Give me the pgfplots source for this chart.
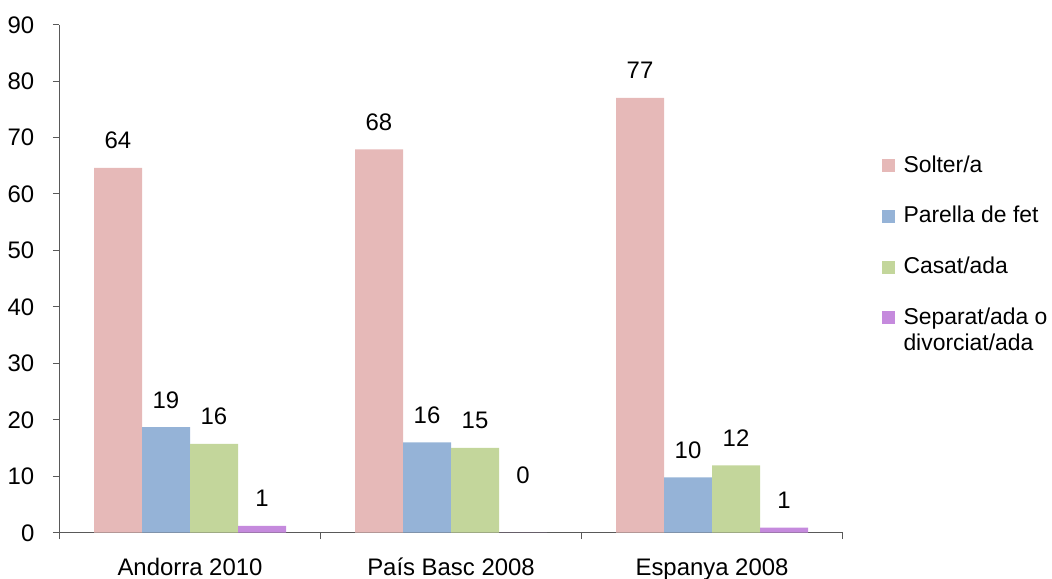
\documentclass[border=0pt]{standalone}
\usepackage{pgfplots}
\pgfplotsset{compat=1.18}
\usepackage{fontspec}
\setmainfont{Liberation Sans}
\definecolor{cPink}{HTML}{E6B9B8}
\definecolor{cBlue}{HTML}{95B3D7}
\definecolor{cGreen}{HTML}{C3D69B}
\definecolor{cPurple}{HTML}{C58ADD}
\definecolor{axgray}{HTML}{595959}
\begin{document}
\begin{tikzpicture}[font=\fontsize{24}{26}\selectfont]
\path[use as bounding box] (0,0) rectangle (1052bp,579bp);
\begin{axis}[
  at={(59.5bp,46.4bp)}, anchor=south west,
  scale only axis, width=783bp, height=508bp,
  ymin=0, ymax=90, ytick={0,10,...,90},
  xmin=-0.5, xmax=2.5,
  xtick={-0.5,0.5,1.5,2.5}, xticklabels={},
  extra x ticks={0,1,2},
  extra x tick labels={Andorra 2010, País Basc 2008, Espanya 2008},
  extra x tick style={major tick length=0pt, xticklabel style={anchor=base, inner sep=0pt, yshift=-42.5bp}},
  axis x line*=bottom, axis y line*=left,
  axis line style={-, draw=axgray, line width=1bp},
  every outer x axis line/.append style={-},
  every outer y axis line/.append style={-},
  tick style={draw=axgray, line width=1bp},
  tick align=outside, major tick length=6.5bp,
  yticklabel style={anchor=base east, inner sep=0pt, xshift=-18.5bp, yshift=-8.5bp},
  /pgf/number format/assume math mode=true,
  ybar=0pt, bar width=48bp,
  point meta=explicit symbolic,
  nodes near coords,
  nodes near coords style={anchor=base, inner sep=0pt, yshift=19bp, font=\fontsize{24}{26}\selectfont},
  legend style={at={(rel axis cs:1.0498,0.743)}, anchor=north west, draw=none, fill=none,
    inner sep=0pt, outer sep=0pt, row sep=28.7bp, column sep=9bp,
    nodes={inner sep=0pt, text height=17bp, text depth=5bp, anchor=base west},
    font=\fontsize{23}{26}\selectfont},
  legend cell align=left,
  legend image code/.code={\fill[#1] (0bp,0bp) rectangle (13bp,13bp);},
]
\addplot[fill=cPink, draw=none] coordinates {(0,64.6) [64] (1,67.9) [68] (2,77.0) [77]};
\addplot[fill=cBlue, draw=none] coordinates {(0,18.7) [19] (1,16.0) [16] (2,9.8) [10]};
\addplot[fill=cGreen, draw=none] coordinates {(0,15.7) [16] (1,15.0) [15] (2,11.9) [12]};
\addplot[fill=cPurple, draw=none] coordinates {(0,1.2) [1] (1,0) [\raisebox{30bp}{0}] (2,0.9) [1]};
\legend{Solter/a, Parella de fet, Casat/ada, {\begin{tabular}[t]{@{}l@{}}Separat/ada o\\divorciat/ada\end{tabular}}}
\end{axis}
\end{tikzpicture}
\end{document}
